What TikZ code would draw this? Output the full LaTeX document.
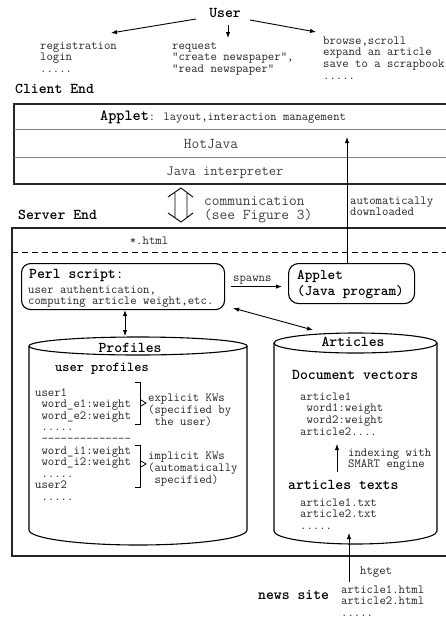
\documentclass[tikz,border=0pt]{standalone}
\usepackage{fontspec}
\usetikzlibrary{arrows.meta}
\newcommand\mlin[1]{\begin{tabular}[t]{@{}l@{}}#1\end{tabular}}
\begin{document}
\begin{tikzpicture}[x=1pt,y=-1pt,
 t/.style={font=\ttfamily\fontsize{12.4}{11.8}\selectfont, text=black!85, inner sep=0pt, anchor=base west},
 tb/.style={font=\ttfamily\fontsize{15}{14}\selectfont\bfseries, inner sep=0pt, anchor=base west},
 tm/.style={font=\ttfamily\fontsize{15}{13.5}\selectfont, text=black!75, inner sep=0pt, anchor=base west},
 arr/.style={-{Latex[length=6pt,width=4.5pt]}, line width=0.9pt},
 darr/.style={{Latex[length=6pt,width=4.5pt]}-{Latex[length=6pt,width=4.5pt]}, line width=0.9pt},
 frame/.style={line width=1.2pt, draw=black!85},
 sep/.style={line width=1pt, draw=black!50},
 rbox/.style={draw, line width=1.1pt, rounded corners=9pt, inner sep=0pt, anchor=north west},
 thin/.style={line width=0.9pt}]
\useasboundingbox (0,0) rectangle (446,619);
% user part
\node[tb, anchor=base] (user) at (225,17) {User};
\node[t] (l1) at (40,49) {\mlin{registration\\login\\.....}};
\node[t] (l2) at (172,49) {\mlin{request\\"create newspaper",\\"read newspaper"}};
\node[t] (l3) at (323,44) {\mlin{browse,scroll\\expand an article\\save to a scrapbook\\.....}};
\coordinate (ua) at (196,19); \coordinate (ua2) at (111,33);
\coordinate (ub) at (228,25); \coordinate (ub2) at (228,38);
\coordinate (uc) at (250,20); \coordinate (uc2) at (316,32);
\draw[arr] (ua) -- (ua2);
\draw[arr] (ub) -- (ub2);
\draw[arr] (uc) -- (uc2);
% client end
\node[tb] (client) at (15,93) {Client End};
\draw[frame] (14,104) rectangle (470,184);
\draw[sep] (14,129) -- (470,129);
\draw[sep] (14,157) -- (470,157);
\node[anchor=base, inner sep=0pt] (crow1) at (223,120) {\ttfamily\fontsize{15.5}{14}\selectfont\bfseries Applet\fontsize{12.2}{12}\selectfont\mdseries\color{black!85}: layout,interaction management};
\node[tm, anchor=base] (crow2) at (211,148) {HotJava};
\node[tm, anchor=base, font=\ttfamily\fontsize{14.2}{13.5}\selectfont] (crow3) at (225,175) {Java interpreter};
% communication
\draw[thin] (168,197) -- (181,188) -- (193,197)
            (175,193) -- (175,217) (187,193) -- (187,217)
            (168,213) -- (181,222) -- (193,213);
\node[tm] (comm) at (204,205) {\mlin{communication\\(see Figure 3)}};
\node[t] (auto) at (350,204) {\mlin{automatically\\downloaded}};
\node[tb] (server) at (18,219) {Server End};
% server box
\draw[frame] (12,228) rectangle (470,556);
\draw[line width=1pt, dash pattern=on 6pt off 4pt] (12,252) -- (470,252);
\node[t, anchor=base] (html) at (149,244) {*.html};
% perl box
\node[rbox, minimum width=203pt, minimum height=46pt] (perl) at (21,263) {};
\node[tb] (perlt) at (29,278) {Perl script\mdseries:};
\node[t] (perld) at (28,293) {\mlin{user authentication,\\computing article weight,etc.}};
% applet box
\node[rbox, minimum width=126pt, minimum height=40pt, rounded corners=10pt] (japp) at (288,263) {};
\node[font=\ttfamily\fontsize{14.5}{16}\selectfont\bfseries, inner sep=0pt, anchor=base west] (jappt) at (297,279) {\mlin{Applet\\(Java program)}};
\node[t] (spawns) at (233,281) {spawns};
\draw[arr] ([xshift=6pt]perl.east) -- ([xshift=-6pt]japp.west |- perl.east);
\coordinate (dl) at (347,137);
\draw[arr] (japp.north -| dl) -- (dl);
\coordinate (proftop) at (125,336);
\draw[darr] (perl.south -| proftop) -- (proftop);
\coordinate (arttop) at (313,330);
\draw[darr] ([xshift=8pt,yshift=2pt]perl.south east) -- (arttop);
% profiles cylinder
\draw[line width=1.1pt] (138,346) ellipse (109 and 9);
\draw[line width=1.1pt] (29,346) -- (29,530) arc[start angle=180, end angle=0, x radius=109, y radius=15] -- (247,346);
\node[tb, anchor=base] (proft) at (130,352) {Profiles};
\node[font=\ttfamily\fontsize{13.7}{14}\selectfont\bfseries, inner sep=0pt, anchor=base west] (uprof) at (55,371) {user profiles};
\node[t, font=\ttfamily\fontsize{12.4}{11.6}\selectfont] (ulist) at (35,396) {\mlin{user1\\\phantom{u}word\_e1:weight\\\phantom{u}word\_e2:weight\\\phantom{u}.....\\\phantom{u}--------------\\\phantom{u}word\_i1:weight\\\phantom{u}word\_i2:weight\\\phantom{u}.....\\user2\\\phantom{u}.....}};
\draw[line width=0.8pt] (135,382) -- (140,382) -- (140,424) -- (135,424);
\draw[line width=0.8pt] (141,400) -- (146,403) -- (141,406);
\draw[line width=0.8pt] (135,445) -- (140,445) -- (140,487) -- (135,487);
\draw[line width=0.8pt] (141,461) -- (146,464) -- (141,467);
\node[t] (expl) at (148,401) {\mlin{explicit KWs\\(specified by\\\phantom{(}the user)}};
\node[t] (impl) at (148,459) {\mlin{implicit KWs\\(automatically\\\phantom{(}specified)}};
% articles cylinder
\draw[line width=1.1pt] (355.5,343) ellipse (81.5 and 10);
\draw[line width=1.1pt] (274,343) -- (274,531) arc[start angle=180, end angle=0, x radius=81.5, y radius=13] -- (437,343);
\node[tb, anchor=base] (artt) at (353,346) {Articles};
\node[tb] (docv) at (292,379) {Document vectors};
\node[t] (vlist) at (300,400) {\mlin{article1\\\phantom{a}word1:weight\\\phantom{a}word2:weight\\article2....}};
\coordinate (ix1) at (337,472); \coordinate (ix2) at (337,444);
\draw[arr] (ix1) -- (ix2);
\node[t] (idx) at (348,456) {\mlin{indexing with\\SMART engine}};
\node[tb] (atexts) at (288,489) {articles texts};
\node[t] (tlist) at (300,506) {\mlin{article1.txt\\article2.txt\\.....}};
% news site
\node[tb] (news) at (258,599) {news site};
\node[t] (nfiles) at (341,593) {\mlin{article1.html\\article2.html\\.....}};
\coordinate (nbot) at (349,582); \coordinate (ntop) at (349,533);
\draw[arr] (nbot) -- (ntop);
\node[t] (htget) at (360,574) {htget};
\end{tikzpicture}
\end{document}
